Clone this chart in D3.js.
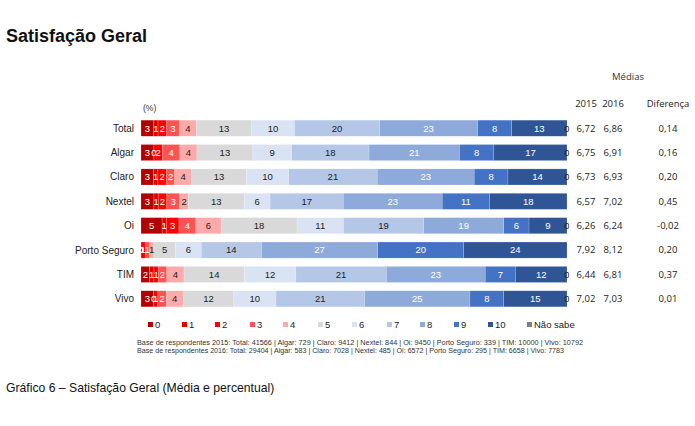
<!DOCTYPE html>
<html><head><meta charset="utf-8">
<script src="https://cdn.jsdelivr.net/npm/d3@7"></script>
<style>html,body{margin:0;padding:0;background:#fff;}svg{display:block;}</style>
</head><body>
<svg id="chart" width="695" height="426"></svg>
<script>
const categories = ["Total","Algar","Claro","Nextel","Oi","Porto Seguro","TIM","Vivo"];
const scoreKeys = ["0","1","2","3","4","5","6","7","8","9","10","Não sabe"];
const total       = [3,1,2,3,4,13,10,20,23,8,13,0];
const algar       = [3,0,2,4,4,13,9,18,21,8,17,0];
const claro       = [3,1,2,2,4,13,10,21,23,8,14,0];
const nextel      = [3,1,2,3,2,13,6,17,23,11,18,null];
const oi          = [5,1,3,4,6,18,11,19,19,6,9,0];
const portoSeguro = [0,0,1,1,1,5,6,14,27,20,24,null];
const tim         = [2,1,1,2,4,14,12,21,23,7,12,0];
const vivo        = [3,0,1,2,4,12,10,21,25,8,15,0];
const media2015 = [6.72,6.75,6.73,6.57,6.26,7.92,6.44,7.02];
const media2016 = [6.86,6.91,6.93,7.02,6.24,8.12,6.81,7.03];
const diferenca = [0.14,0.16,0.20,0.45,-0.02,0.20,0.37,0.01];
const colors = ["#b00000","#e00000","#ff0000","#ff5252","#ffaaaa","#d9d9d9","#dae3f3","#b4c7e7","#8eaadb","#4472c4","#2f5597","#808080"];
const whiteText = [true,true,true,true,false,false,false,false,true,true,true,false];
const footnote2015 = "Base de respondentes 2015: Total: 41566 | Algar: 729 | Claro: 9412 | Nextel: 844 | Oi: 9450 | Porto Seguro: 339 | TIM: 10000 | Vivo: 10792";
const footnote2016 = "Base de respondentes 2016: Total: 29404 | Algar: 583 | Claro: 7028 | Nextel: 485 | Oi: 6572 | Porto Seguro: 295 | TIM: 6658 | Vivo: 7783";

const rowsRaw = [total,algar,claro,nextel,oi,portoSeguro,tim,vivo];
const data = categories.map((c,i)=>{
  const o = {cat:c};
  scoreKeys.forEach((k,j)=>{ o[k] = rowsRaw[i][j]; });
  return o;
});

const svg = d3.select("#chart");
const loc = d3.formatLocale({decimal:",",thousands:".",grouping:[3],currency:["R$",""],minus:"-"});
const f2 = loc.format(".2f");

const x = d3.scaleLinear().domain([0,1]).range([141,567]);
const y = d3.scaleBand().domain(categories).range([116,311]).paddingInner(0.34).paddingOuter(0.17);

const stack = d3.stack().keys(scoreKeys).value((d,k)=>d[k]==null?0:d[k]).offset(d3.stackOffsetExpand);
const series = stack(data);

// title
svg.append("text").attr("x",6).attr("y",42).attr("font-family","Liberation Sans, Arial, sans-serif")
  .attr("font-weight","bold").attr("font-size",18).attr("fill","#111").text("Satisfação Geral");

svg.append("text").attr("x",143).attr("y",111).attr("font-family","Liberation Sans, Arial, sans-serif")
  .attr("font-size",8.5).attr("fill","#333").text("(%)");

// category labels
svg.append("g").selectAll("text").data(categories).join("text")
  .attr("x",134).attr("y",d=>y(d)+y.bandwidth()/2).attr("dy","0.35em")
  .attr("text-anchor","end").attr("font-family","Liberation Sans, Arial, sans-serif")
  .attr("font-size",10).attr("fill","#222").text(d=>d);

svg.append("defs").append("clipPath").attr("id","clip").append("rect")
  .attr("x",0).attr("y",0).attr("width",569.5).attr("height",426);

const gBars = svg.append("g");
series.forEach((s,si)=>{
  const g = gBars.append("g").attr("fill",colors[si]);
  g.selectAll("rect").data(s).join("rect")
    .attr("x",d=>x(d[0])).attr("width",d=>Math.max(0,x(d[1])-x(d[0])))
    .attr("y",d=>y(d.data.cat)).attr("height",y.bandwidth())
    .attr("stroke","#fff").attr("stroke-opacity",0.35).attr("stroke-width",0.5);
});
const gLab = svg.append("g").attr("clip-path","url(#clip)");
series.forEach((s,si)=>{
  gLab.append("g").selectAll("text").data(s.filter(d=>d.data[s.key]!=null)).join("text")
    .attr("x",d=>(x(d[0])+x(d[1]))/2).attr("y",d=>y(d.data.cat)+y.bandwidth()/2).attr("dy","0.36em")
    .attr("text-anchor","middle").attr("font-family","Liberation Sans, Arial, sans-serif")
    .attr("font-size",9.5).attr("fill",whiteText[si]?"#fff":"#222")
    .text(d=>d.data[s.key]);
});

// means table
const tf = "Open Sans, Calibri, sans-serif";
svg.append("text").attr("x",628).attr("y",80).attr("text-anchor","middle").attr("font-family",tf)
  .attr("font-size",9.5).attr("fill","#333").text("Médias");
const cols = [{x:586,h:"2015",v:media2015},{x:613,h:"2016",v:media2016},{x:668,h:"Diferença",v:diferenca}];
cols.forEach(c=>{
  svg.append("text").attr("x",c.x).attr("y",107).attr("text-anchor","middle").attr("font-family",tf)
    .attr("font-size",9.5).attr("fill","#222").text(c.h);
  svg.append("g").selectAll("text").data(categories).join("text")
    .attr("x",c.x).attr("y",d=>y(d)+y.bandwidth()/2).attr("dy","0.35em").attr("text-anchor","middle")
    .attr("font-family",tf).attr("font-size",9.5).attr("fill","#222")
    .text((d,i)=>f2(c.v[i]));
});

// legend
const legX = [148,182,215,250,283,318,352,387,420,454,488,527];
const leg = svg.append("g").selectAll("g").data(scoreKeys).join("g")
  .attr("transform",(d,i)=>`translate(${legX[i]},325)`);
leg.append("rect").attr("x",0).attr("y",-3).attr("width",5).attr("height",5).attr("fill",(d,i)=>colors[i]);
leg.append("text").attr("x",7).attr("y",0).attr("dy","0.35em").attr("font-family","Liberation Sans, Arial, sans-serif")
  .attr("font-size",9.5).attr("fill","#222").text(d=>d);

// footnotes
svg.append("text").attr("x",137).attr("y",345).attr("font-family","Liberation Sans, Arial, sans-serif")
  .attr("font-size",6.5).attr("fill","#333").attr("textLength",446).attr("lengthAdjust","spacingAndGlyphs").text(footnote2015);
svg.append("text").attr("x",137).attr("y",352.5).attr("font-family","Liberation Sans, Arial, sans-serif")
  .attr("font-size",6.5).attr("fill","#333").attr("textLength",427).attr("lengthAdjust","spacingAndGlyphs").text(footnote2016);

// caption
svg.append("text").attr("x",6).attr("y",392).attr("font-family","Liberation Sans, Arial, sans-serif")
  .attr("font-size",12.2).attr("fill","#111").text("Gráfico 6 – Satisfação Geral (Média e percentual)");
</script>
</body></html>
